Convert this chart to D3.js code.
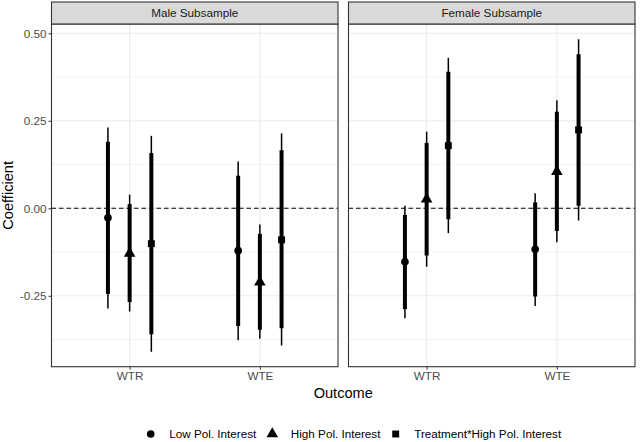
<!DOCTYPE html>
<html>
<head>
<meta charset="utf-8">
<script src="https://cdn.jsdelivr.net/npm/d3@7"></script>
<style>
  body { margin: 0; background: #fff; }
  svg { font-family: "Liberation Sans", Arial, sans-serif; }
  .grid { stroke: #ebebeb; fill: none; }
</style>
</head>
<body>
<svg id="chart"></svg>
<script>
// data
const panels = ["Male Subsample", "Female Subsample"];
const outcomes = ["WTR", "WTE"];
const groups = ["Low Pol. Interest", "High Pol. Interest", "Treatment*High Pol. Interest"];
const yTicks = [0.5, 0.25, 0, -0.25];
const yTickLabels = ["0.50", "0.25", "0.00", "-0.25"];

// estimate, inner (thick) interval, outer (thin) interval  -- panel, outcome, group order
const estimates = [
  [[-0.027, -0.129, -0.101], [-0.121, -0.211, -0.090]],
  [[-0.153, 0.026, 0.179], [-0.117, 0.105, 0.224]]
];
const innerLow = [
  [[-0.245, -0.268, -0.360], [-0.336, -0.347, -0.343]],
  [[-0.288, -0.135, -0.031], [-0.252, -0.065, 0.007]]
];
const innerHigh = [
  [[0.190, 0.012, 0.158], [0.093, -0.073, 0.166]],
  [[-0.019, 0.187, 0.390], [0.017, 0.276, 0.440]]
];
const outerLow = [
  [[-0.286, -0.295, -0.410], [-0.377, -0.373, -0.392]],
  [[-0.314, -0.167, -0.071], [-0.279, -0.097, -0.035]]
];
const outerHigh = [
  [[0.231, 0.039, 0.207], [0.134, -0.046, 0.214]],
  [[0.007, 0.219, 0.430], [0.043, 0.309, 0.483]]
];

const width = 640, height = 442;
const panelLeft = [51.5, 348.5], panelWidth = 286.5;
const stripTop = 2, panelTop = 24, panelBottom = 366.7;

let svg = d3.select("#chart").attr("width", width).attr("height", height);

let y = d3.scaleLinear().domain([-0.4526, 0.5266]).range([panelBottom, panelTop]);
let minorTicks = [0.375, 0.125, -0.125, -0.375];

let symbols = [d3.symbolCircle, d3.symbolTriangle, d3.symbolSquare];
let symbolSizes = [46, 58, 48];

panels.forEach((name, p) => {
  let x = d3.scalePoint().domain(outcomes)
    .range([panelLeft[p], panelLeft[p] + panelWidth]).padding(0.6);
  // dodge the three groups around each outcome
  let step = x.step();
  let dodge = d3.scaleBand().domain(groups).range([-step * 0.25, step * 0.25]);

  let g = svg.append("g");

  g.append("rect")
    .attr("x", panelLeft[p]).attr("y", panelTop)
    .attr("width", panelWidth).attr("height", panelBottom - panelTop)
    .attr("fill", "#fff");

  // Draw the grid
  minorTicks.forEach(t => {
    g.append("line").attr("class", "grid").attr("stroke-width", 0.6)
      .attr("x1", panelLeft[p]).attr("x2", panelLeft[p] + panelWidth)
      .attr("y1", y(t)).attr("y2", y(t));
  });
  yTicks.forEach(t => {
    g.append("line").attr("class", "grid").attr("stroke-width", 1.1)
      .attr("x1", panelLeft[p]).attr("x2", panelLeft[p] + panelWidth)
      .attr("y1", y(t)).attr("y2", y(t));
  });
  outcomes.forEach(o => {
    g.append("line").attr("class", "grid").attr("stroke-width", 1.1)
      .attr("x1", x(o)).attr("x2", x(o))
      .attr("y1", panelTop).attr("y2", panelBottom);
  });

  // zero line
  g.append("line")
    .attr("x1", panelLeft[p]).attr("x2", panelLeft[p] + panelWidth)
    .attr("y1", y(0)).attr("y2", y(0))
    .attr("stroke", "#000").attr("stroke-width", 1.1)
    .attr("stroke-dasharray", "4.5,3");

  outcomes.forEach((o, i) => {
    groups.forEach((grp, k) => {
      let cx = x(o) + dodge(grp) + dodge.bandwidth() / 2;
      g.append("line")
        .attr("x1", cx).attr("x2", cx)
        .attr("y1", y(outerLow[p][i][k])).attr("y2", y(outerHigh[p][i][k]))
        .attr("stroke", "#000").attr("stroke-width", 1.5);
      g.append("line")
        .attr("x1", cx).attr("x2", cx)
        .attr("y1", y(innerLow[p][i][k])).attr("y2", y(innerHigh[p][i][k]))
        .attr("stroke", "#000").attr("stroke-width", 4);
      g.append("path")
        .attr("d", d3.symbol().type(symbols[k]).size(symbolSizes[k]))
        .attr("transform", "translate(" + cx + "," + y(estimates[p][i][k]) + ")")
        .attr("fill", "#000");
    });
  });

  g.append("rect")
    .attr("x", panelLeft[p]).attr("y", panelTop)
    .attr("width", panelWidth).attr("height", panelBottom - panelTop)
    .attr("fill", "none").attr("stroke", "#333").attr("stroke-width", 1.1);

  // strip
  g.append("rect")
    .attr("x", panelLeft[p]).attr("y", stripTop)
    .attr("width", panelWidth).attr("height", panelTop - stripTop)
    .attr("fill", "#d9d9d9").attr("stroke", "#333").attr("stroke-width", 1.1);
  g.append("text")
    .attr("x", panelLeft[p] + panelWidth / 2).attr("y", (stripTop + panelTop) / 2 + 4.2)
    .attr("text-anchor", "middle").attr("font-size", "11.7px").attr("fill", "#1a1a1a")
    .text(name);

  // x axis
  let xAxis = d3.axisBottom(x).tickSize(3).tickPadding(2);
  let ax = svg.append("g").attr("transform", "translate(0," + panelBottom + ")").call(xAxis);
  ax.select(".domain").remove();
  ax.selectAll(".tick line").attr("stroke", "#333");
  ax.selectAll(".tick text").attr("fill", "#4d4d4d").attr("font-size", "11.7px")
    .attr("font-family", "Liberation Sans, Arial, sans-serif");
});

// y axis
let yAxis = d3.axisLeft(y).tickValues(yTicks)
  .tickFormat((d, i) => yTickLabels[i]).tickSize(3).tickPadding(2);
let ay = svg.append("g").attr("transform", "translate(" + panelLeft[0] + ",0)").call(yAxis);
ay.select(".domain").remove();
ay.selectAll(".tick line").attr("stroke", "#333");
ay.selectAll(".tick text").attr("fill", "#4d4d4d").attr("font-size", "11.7px")
  .attr("font-family", "Liberation Sans, Arial, sans-serif");

// axis titles
svg.append("text")
  .attr("x", (panelLeft[0] + panelLeft[1] + panelWidth) / 2).attr("y", 398)
  .attr("text-anchor", "middle").attr("font-size", "14.6px").attr("fill", "#000")
  .text("Outcome");
svg.append("text")
  .attr("transform", "translate(13," + (panelTop + panelBottom) / 2 + ") rotate(-90)")
  .attr("text-anchor", "middle").attr("font-size", "14.6px").attr("fill", "#000")
  .text("Coefficient");

// legend
let legendX = [150.7, 272.3, 395.7];
groups.forEach((grp, k) => {
  svg.append("path")
    .attr("d", d3.symbol().type(symbols[k]).size(symbolSizes[k]))
    .attr("transform", "translate(" + legendX[k] + ",434)")
    .attr("fill", "#000");
  svg.append("text")
    .attr("x", legendX[k] + 18.5).attr("y", 438.2)
    .attr("font-size", "11.7px").attr("fill", "#000")
    .text(grp);
});
</script>
</body>
</html>
